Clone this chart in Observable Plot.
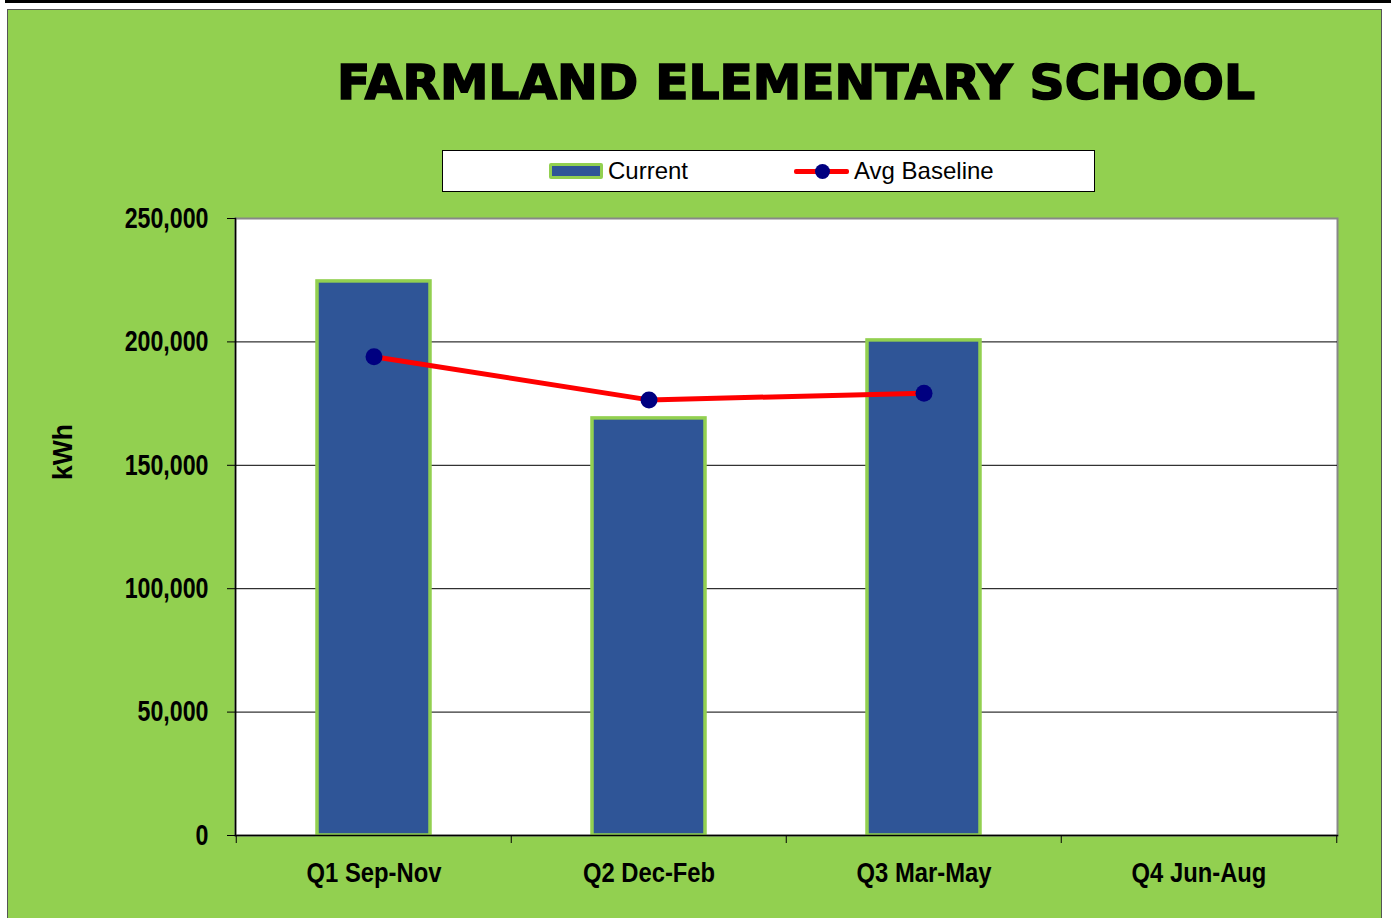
<!DOCTYPE html>
<html><head><meta charset="utf-8">
<script src="https://cdn.jsdelivr.net/npm/d3@7"></script>
<script src="https://cdn.jsdelivr.net/npm/@observablehq/plot@0.6"></script>
<style>
body{margin:0;background:#fff;width:1391px;height:918px;overflow:hidden;position:relative;font-family:Arial,"Liberation Sans",sans-serif;}
#topbar{position:absolute;left:5px;top:0;width:1386px;height:3px;background:#000;}
#panel{position:absolute;left:7px;top:9px;width:1373px;height:920px;background:#92D050;border:1px solid #555;}
#chart{position:absolute;left:0;top:0;}
#title{position:absolute;left:0;top:0;}
#legend{position:absolute;left:442px;top:150px;width:651px;height:40px;background:#fff;border:1px solid #000;font-size:24px;color:#000;}
#legend .sw{position:absolute;left:106px;top:12px;width:54px;height:16px;box-sizing:border-box;border:3px solid #92D050;border-radius:2px;background:#2F5597;}
#legend .ln{position:absolute;left:351px;top:18px;width:55px;height:5px;border-radius:2px;background:#ff0000;}
#legend .dt{position:absolute;left:372px;top:13px;width:15px;height:15px;border-radius:50%;background:#000080;}
#legend .tx{position:absolute;top:0;height:40px;line-height:40px;white-space:nowrap;}
</style></head><body>
<div id="topbar"></div>
<div id="panel"></div>
<svg id="title" width="1391" height="130"><text x="796" y="99" text-anchor="middle" font-family="DejaVu Sans" font-weight="900" font-size="48" stroke="#000" stroke-width="1.6" textLength="918" lengthAdjust="spacingAndGlyphs" fill="#000">FARMLAND ELEMENTARY SCHOOL</text></svg>
<div id="legend"><div class="sw"></div><div class="tx" style="left:165px">Current</div><div class="ln"></div><div class="dt"></div><div class="tx" style="left:411px">Avg Baseline</div></div>
<div id="chart"></div>
<script>
const categories = ["Q1 Sep-Nov", "Q2 Dec-Feb", "Q3 Mar-May", "Q4 Jun-Aug"];
const current = [224500, 169000, 200600, null];
const baseline = [194000, 176500, 179200, null];
const yTicks = [0, 50000, 100000, 150000, 200000, 250000];
const yLabel = "kWh";

const data = categories.map((q, i) => ({q, current: current[i], baseline: baseline[i]}));
const bars = data.filter(d => d.current != null);
const pts = data.filter(d => d.baseline != null);
const font = "Arial, 'Liberation Sans', sans-serif";
const half = (1391 - 235 - 54) / 4 / 2;

const chart = Plot.plot({
  width: 1391, height: 918,
  marginLeft: 235, marginRight: 54, marginTop: 218, marginBottom: 83,
  style: {background: "transparent", fontFamily: font, color: "#000", overflow: "visible"},
  x: {type: "band", domain: categories, paddingInner: 0.59, paddingOuter: 0.295, label: null},
  y: {domain: [0, 250000], label: null},
  marks: [
    Plot.frame({fill: "white", stroke: "#888", strokeWidth: 2}),
    Plot.ruleY(yTicks.slice(1, -1), {stroke: "#000", strokeWidth: 1}),
    Plot.barY(bars, {x: "q", y: "current", fill: "#2F5597", stroke: "#92D050", strokeWidth: 3.5}),
    Plot.line(pts, {x: "q", y: "baseline", stroke: "#ff0000", strokeWidth: 5}),
    Plot.dot(pts, {x: "q", y: "baseline", r: 8.5, fill: "#000080", stroke: "none"}),
    Plot.frame({anchor: "left", stroke: "#000", strokeWidth: 1.5}),
    Plot.frame({anchor: "bottom", stroke: "#000", strokeWidth: 1.5}),
    Plot.ruleX(categories, {dx: -half, insetTop: 617, insetBottom: -8, stroke: "#000"}),
    Plot.ruleX([categories[categories.length - 1]], {dx: half, insetTop: 617, insetBottom: -8, stroke: "#000"}),
    Plot.axisY({ticks: yTicks, tickFormat: d3.format(","), tickSize: 8, tickPadding: 19, fontSize: 29, fontWeight: "bold", label: null}),
    Plot.axisX({tickSize: 0, tickPadding: 27, fontSize: 28, fontWeight: "bold", label: null}),
    Plot.text([yLabel], {frameAnchor: "left", textAnchor: "middle", dx: -172, dy: -75, rotate: -90, fontSize: 28, fontWeight: "bold"})
  ]
});
document.getElementById("chart").appendChild(chart);

// condensed look of the original's narrow bold font
function squeeze(sel, k) {
  d3.select(chart).selectAll(sel).attr("transform", function () {
    return (this.getAttribute("transform") || "") + ` scale(${k},1)`;
  });
}
squeeze('g[aria-label="y-axis tick label"] text', 0.8);
squeeze('g[aria-label="x-axis tick label"] text', 0.85);
squeeze('g[aria-label="text"] text', 0.95);
</script>
</body></html>
